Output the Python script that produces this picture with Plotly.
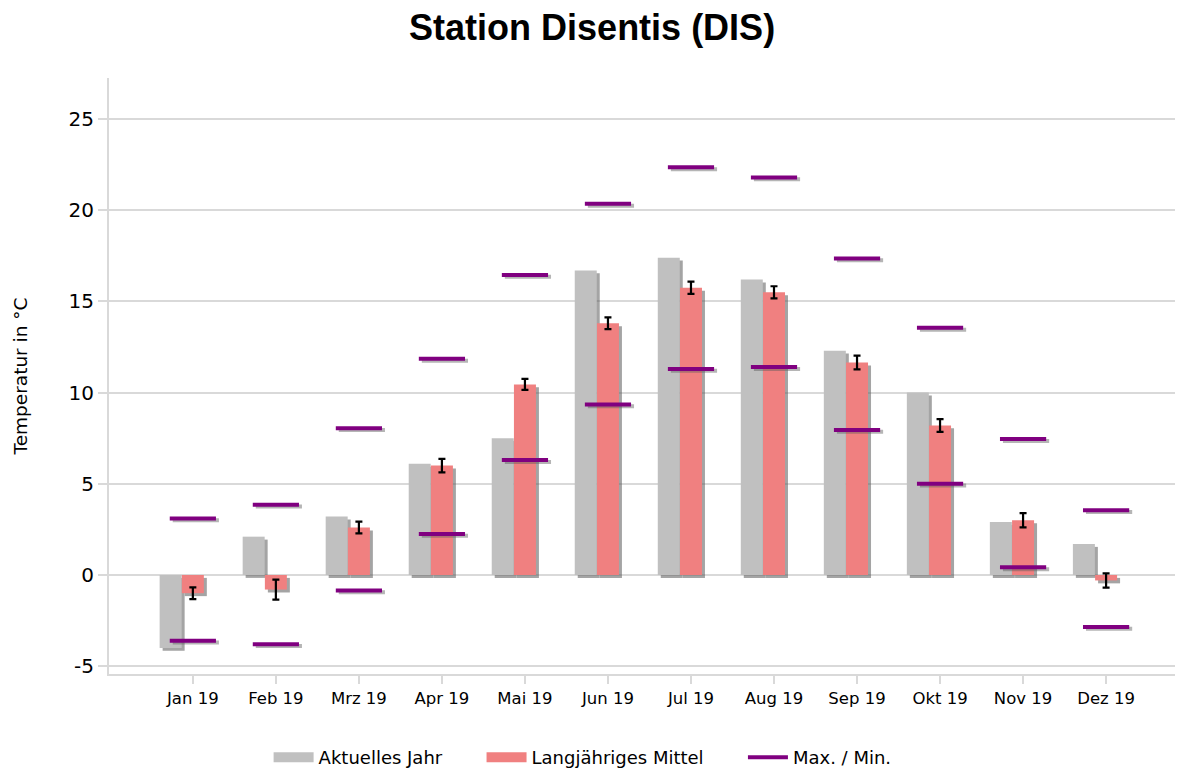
import plotly.graph_objects as go

months = ["Jan 19", "Feb 19", "Mrz 19", "Apr 19", "Mai 19", "Jun 19",
          "Jul 19", "Aug 19", "Sep 19", "Okt 19", "Nov 19", "Dez 19"]
aktuell = [-4.0, 2.1, 3.2, 6.1, 7.5, 16.7, 17.4, 16.2, 12.3, 10.0, 2.9, 1.7]
mittel = [-1.0, -0.8, 2.6, 6.0, 10.45, 13.8, 15.75, 15.5, 11.65, 8.2, 3.0, -0.3]
mittel_err = [0.32, 0.55, 0.32, 0.37, 0.3, 0.32, 0.34, 0.33, 0.38, 0.35, 0.39, 0.39]
t_max = [3.1, 3.85, 8.05, 11.85, 16.45, 20.35, 22.35, 21.8, 17.35, 13.55, 7.45, 3.55]
t_min = [-3.6, -3.8, -0.85, 2.25, 6.3, 9.35, 11.3, 11.4, 7.95, 5.0, 0.42, -2.85]
legend_names = ["Aktuelles Jahr", "Langjähriges Mittel", "Max. / Min."]

x = list(range(len(months)))
W = 0.265          # bar width in category units
SX = 0.036         # shadow x shift
SY = 0.16          # shadow y shift
shadow = "rgba(90,90,90,0.55)"
GRAY = "#c0c0c0"
RED = "#f08080"
PURPLE = "#800080"
pad = "\u00a0" * 6

fig = go.Figure()

# shadows of bars
fig.add_trace(go.Bar(x=x, y=aktuell, base=[-SY]*12, offset=-0.4 + SX, width=W,
                     marker=dict(color=shadow, line_width=0), showlegend=False, hoverinfo="skip"))
fig.add_trace(go.Bar(x=x, y=mittel, base=[-SY]*12, offset=-W/2 + SX, width=W,
                     marker=dict(color=shadow, line_width=0), showlegend=False, hoverinfo="skip"))
# bars
fig.add_trace(go.Bar(x=x, y=aktuell, offset=-0.4, width=W, name=legend_names[0],
                     marker=dict(color=GRAY, line_width=0), showlegend=False))
fig.add_trace(go.Bar(x=x, y=mittel, offset=-W/2, width=W, name=legend_names[1],
                     marker=dict(color=RED, line_width=0), showlegend=False))

# error bars
fig.add_trace(go.Scatter(x=x, y=mittel, mode="markers", marker=dict(size=0.1, color="black"),
                         error_y=dict(type="data", array=mittel_err, color="black",
                                      thickness=2.2, width=3.5),
                         showlegend=False, hoverinfo="skip"))

# max/min shadows
for vals in (t_max, t_min):
    fig.add_trace(go.Scatter(x=[v + SX for v in x], y=[v - 0.1 for v in vals], mode="markers",
                             marker=dict(symbol="line-ew", size=33,
                                         line=dict(width=4, color="rgba(90,90,90,0.45)")),
                             showlegend=False, hoverinfo="skip"))
for vals in (t_max, t_min):
    fig.add_trace(go.Scatter(x=x, y=vals, mode="markers", name=legend_names[2],
                             marker=dict(symbol="line-ew", size=33,
                                         line=dict(width=4, color=PURPLE)),
                             showlegend=False))

# legend entries
fig.add_trace(go.Scatter(x=[None], y=[None], mode="lines", name=legend_names[0] + pad,
                         line=dict(color=GRAY, width=20)))
fig.add_trace(go.Scatter(x=[None], y=[None], mode="lines", name=legend_names[1] + pad,
                         line=dict(color=RED, width=20)))
fig.add_trace(go.Scatter(x=[None], y=[None], mode="lines", name=legend_names[2],
                         line=dict(color=PURPLE, width=4)))

fig.update_layout(
    barmode="overlay",
    width=1189, height=776,
    paper_bgcolor="white", plot_bgcolor="white",
    margin=dict(l=109, r=14, t=78, b=102),
    title=dict(text="<b>Station Disentis (DIS)</b>", x=0.498, xanchor="center",
               y=0.965, yanchor="middle",
               font=dict(family="Liberation Sans, Arial", size=36, color="black")),
    font=dict(family="DejaVu Sans", color="black"),
    legend=dict(orientation="h", x=0.49, xanchor="center", xref="container",
                y=-0.0145, yanchor="bottom", yref="container",
                font=dict(size=18, family="DejaVu Sans"), itemwidth=40,
                traceorder="normal"),
    xaxis=dict(range=[-1.01, 11.83], tickvals=x, ticktext=months,
               showgrid=False, zeroline=False, showline=True, linecolor="#d9d9d9",
               linewidth=2, ticks="outside", ticklen=8, tickcolor="#d9d9d9", tickwidth=2,
               tickfont=dict(size=16.5), automargin=False),
    yaxis=dict(range=[-5.43, 27.25], tickvals=[-5, 0, 5, 10, 15, 20, 25],
               ticktext=["-5", "0", "5", "10", "15", "20", "25"],
               showgrid=True, gridcolor="#d9d9d9", gridwidth=2, zeroline=False,
               showline=True, linecolor="#d9d9d9", linewidth=2,
               ticks="outside", ticklen=9, tickcolor="#d9d9d9", tickwidth=2,
               tickfont=dict(size=20), automargin=False,
               title=dict(text="Temperatur in °C", font=dict(size=18.5), standoff=36)),
)

fig.write_html("out.html", config={"displayModeBar": False},
               post_script="document.body.style.margin='0';document.body.style.padding='0';")
